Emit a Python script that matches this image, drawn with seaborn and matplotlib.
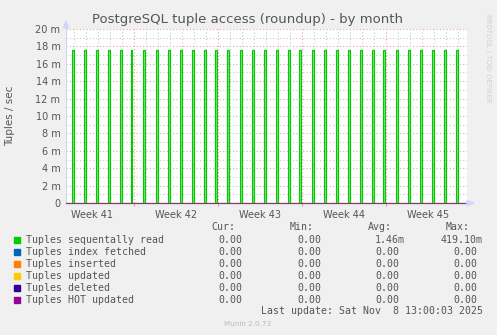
import matplotlib
matplotlib.use("Agg")
import matplotlib.pyplot as plt
import seaborn as sns
import pandas as pd
import numpy as np

# ---------------- data ----------------
title = "PostgreSQL tuple access (roundup) - by month"
ylabel = "Tuples / sec"
week_labels = ["Week 41", "Week 42", "Week 43", "Week 44", "Week 45"]
week_label_pos = [3.5, 10.5, 17.5, 24.5, 31.5]        # days since start of week 41
week_bounds = [7, 14, 21, 28]
spike_days = [1.86, 2.86, 3.86, 4.86, 5.86, 6.75, 7.78, 8.86, 9.86, 10.86, 11.86,
              12.86, 13.78, 14.78, 15.86, 16.86, 17.86, 18.86, 19.86, 20.78, 21.86,
              22.86, 23.86, 24.86, 25.86, 26.86, 27.78, 28.86, 29.86, 30.86, 31.86,
              32.86, 33.86]
spike_values = [17.6, 17.6, 17.6, 17.6, 17.6, 17.6, 17.6, 17.6, 17.6, 17.6, 17.6,
                17.6, 17.6, 17.6, 17.6, 17.6, 17.6, 17.6, 17.6, 17.6, 17.6,
                17.6, 17.6, 17.6, 17.6, 17.6, 17.6, 17.6, 17.6, 17.6, 17.6,
                17.6, 17.6]   # milli tuples/sec
series_names = ["Tuples sequentally read", "Tuples index fetched", "Tuples inserted",
                "Tuples updated", "Tuples deleted", "Tuples HOT updated"]
series_colors = ["#00CC00", "#0066B3", "#FF8000", "#FFCC00", "#330099", "#990099"]
cur_vals = ["0.00", "0.00", "0.00", "0.00", "0.00", "0.00"]
min_vals = ["0.00", "0.00", "0.00", "0.00", "0.00", "0.00"]
avg_vals = ["1.46m", "0.00", "0.00", "0.00", "0.00", "0.00"]
max_vals = ["419.10m", "0.00", "0.00", "0.00", "0.00", "0.00"]
last_update = "Last update: Sat Nov  8 13:00:03 2025"
version = "Munin 2.0.73"
watermark = "RRDTOOL / TOBI OETIKER"

# ---------------- figure ----------------
W, H = 497, 335
fig = plt.figure(figsize=(W / 100, H / 100), dpi=100, facecolor="#F0F0F0")
sns.set_style("white")
plt.rcParams["font.family"] = ["DejaVu Sans"]

L, R, T, B = 66, 467, 29, 203
ax = fig.add_axes([L / W, 1 - B / H, (R - L) / W, (B - T) / H])
ax.set_facecolor("#FFFFFF")

def px(x, y):
    return x / W, 1 - y / H

# build step series for the spikes
w = 0.12
xs, ys = [], []
xs.append(1.3); ys.append(0)
for d, v in zip(spike_days, spike_values):
    xs += [d, d, d + w, d + w]
    ys += [0, v, v, 0]
xs.append(34.8); ys.append(0)
df = pd.DataFrame({"day": xs, "val": ys})

ax.fill_between(df["day"], df["val"], 0, color="#7CE07C", lw=0, zorder=3)
sns.lineplot(data=df, x="day", y="val", sort=False, estimator=None, color=series_colors[0],
             lw=0.8, ax=ax, zorder=4)

zero_df = pd.DataFrame({"day": [1.333, 34.75], "val": [0, 0]})
n0 = len(ax.lines)
for c in series_colors[1:]:
    sns.lineplot(data=zero_df, x="day", y="val", color=c, lw=0.8, alpha=0.45, ax=ax, zorder=5)
for ln in ax.lines[n0:]:
    ln.set_clip_on(False)

ax.set_xlim(1.333, 34.75)
ax.set_ylim(0, 20)

# grid
for yv in range(1, 20, 2):
    ax.axhline(yv, color="#C8C8C8", lw=0.8, ls=(0, (1, 2)), zorder=1)
for yv in range(2, 21, 2):
    ax.axhline(yv, color="#E8A0A0", lw=0.8, ls=(0, (1, 2)), zorder=1)
for d in range(2, 35):
    if d not in week_bounds:
        ax.axvline(d, color="#C8C8C8", lw=0.8, ls=(0, (1, 2)), zorder=1)
for d in week_bounds:
    ax.axvline(d, color="#E8A0A0", lw=0.8, ls=(0, (1, 2)), zorder=1)
    ax.plot([d, d], [-0.35, 0], color="#E8A0A0", lw=0.8, clip_on=False, zorder=1)

ytick_vals = list(range(0, 21, 2))
ax.set_yticks(ytick_vals)
ax.set_yticklabels(["0" if v == 0 else f"{v} m" for v in ytick_vals])
ax.set_xticks(week_label_pos)
ax.set_xticklabels(week_labels)
ax.tick_params(axis="both", length=0, labelsize=7, labelcolor="#555555", pad=4)
ax.tick_params(axis="x", pad=5)
ax.set_xlabel("")
ax.set_ylabel("")

for s in ["top", "right"]:
    ax.spines[s].set_visible(False)
ax.spines["left"].set_color("#CFD6F8")
ax.spines["bottom"].set_color("#CFD6F8")
ax.spines["left"].set_linewidth(0.8)
ax.spines["bottom"].set_linewidth(0.8)

# arrows
fig.add_artist(plt.Polygon([px(63.5, 28), px(68.5, 28), px(66, 21)], closed=True,
                           transform=fig.transFigure, color="#CFD6F8"))
fig.add_artist(plt.Polygon([px(467, 200.5), px(467, 205.5), px(474, 203)], closed=True,
                           transform=fig.transFigure, color="#CFD6F8"))

# texts
fig.text(*px(248, 19), title, ha="center", va="center", fontsize=9.5, color="#555555")
fig.text(*px(10, 116), ylabel, ha="center", va="center", rotation=90, fontsize=7.5,
         color="#555555")
fig.text(*px(488, 14), watermark, ha="center", va="top", rotation=270, fontsize=5,
         color="#D0D0D0")

mono = "DejaVu Sans Mono"
fs = 7.1
tc = "#555555"
headers = ["Cur:", "Min:", "Avg:", "Max:"]
head_x = [235, 314, 392, 470]
for h, x in zip(headers, head_x):
    fig.text(*px(x, 227), h, ha="right", va="center", family=mono, fontsize=fs, color=tc)

col_unit_x = [248, 327, 405, 483]
row_y = [240, 252, 264, 276, 288, 300]
cols = [cur_vals, min_vals, avg_vals, max_vals]
for i, (name, color) in enumerate(zip(series_names, series_colors)):
    y = row_y[i]
    fig.add_artist(plt.Rectangle(px(14, y + 3), 6 / W, 6 / H, transform=fig.transFigure,
                                 color=color))
    fig.text(*px(26, y), name, ha="left", va="center", family=mono, fontsize=fs, color=tc)
    for col, xu in zip(cols, col_unit_x):
        v = col[i]
        x = xu if v.endswith("m") else xu - 6
        fig.text(*px(x, y), v, ha="right", va="center", family=mono, fontsize=fs, color=tc)

fig.text(*px(483, 311), last_update, ha="right", va="center", family=mono, fontsize=fs,
         color=tc)
fig.text(*px(248, 324), version, ha="center", va="center", fontsize=5.2, color="#BBBBBB")

fig.savefig("out.png", dpi=100, facecolor=fig.get_facecolor())
